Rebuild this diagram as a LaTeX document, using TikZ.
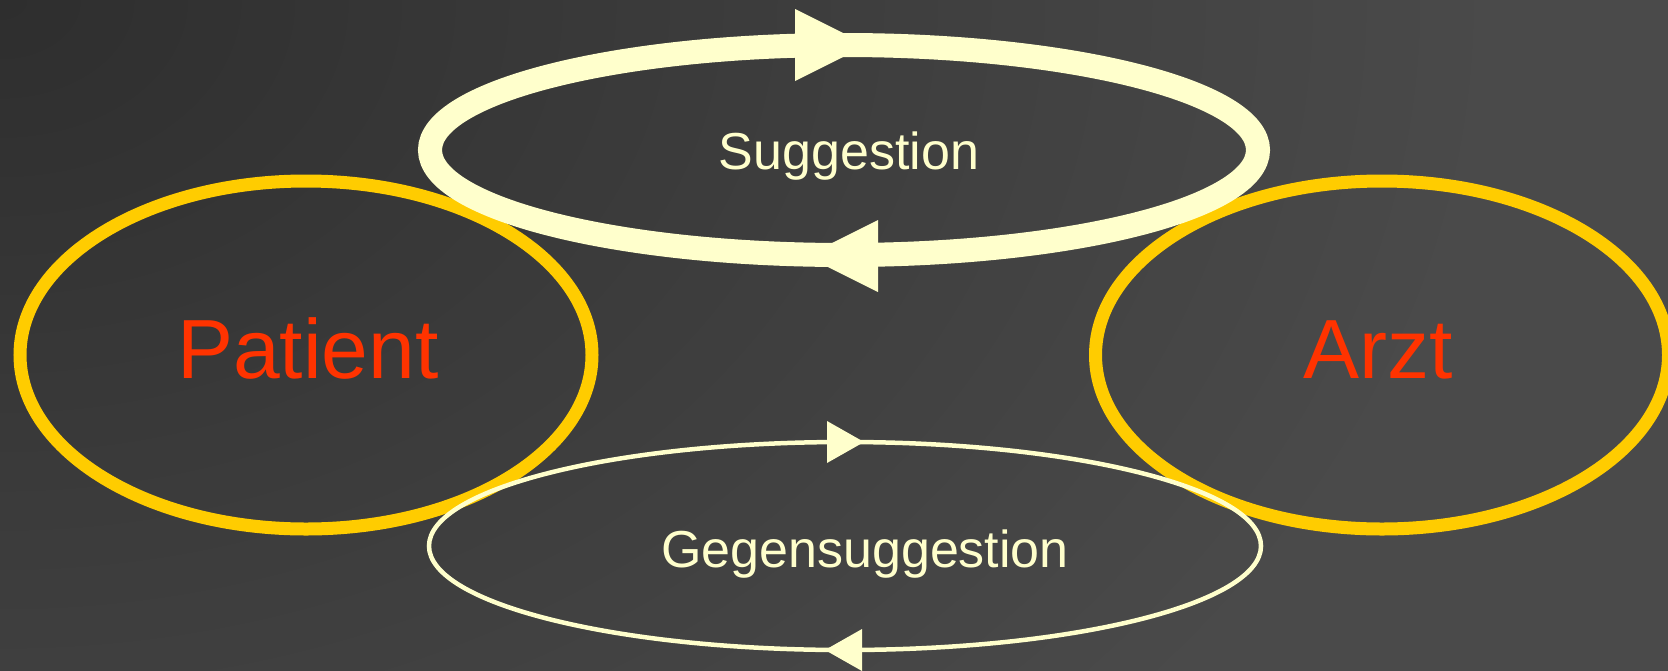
\documentclass[tikz,border=0pt]{standalone}
\usepackage{fontspec}
\setmainfont{Liberation Sans}
\usetikzlibrary{shapes.geometric}
\definecolor{bgdark}{HTML}{2E2E2E}
\definecolor{bglight}{HTML}{4A4A4A}
\definecolor{gold}{HTML}{FFCC00}
\definecolor{cream}{HTML}{FFFFCC}
\definecolor{redtxt}{HTML}{FF3300}
\pgfdeclareradialshading{bgshade}{\pgfpoint{0bp}{0bp}}{color(0bp)=(bgdark); color(12.5bp)=(bglight); color(50bp)=(bglight)}
\begin{document}
\begin{tikzpicture}[x=1pt,y=-1pt,
 party/.style={ellipse,draw=gold,line width=13pt,inner sep=0pt},
 loopring/.style={ellipse,draw=cream,inner sep=0pt},
 bigtxt/.style={text=redtxt,font=\fontsize{84}{90}\selectfont,anchor=base,inner sep=0pt},
 smalltxt/.style={text=cream,font=\fontsize{52}{60}\selectfont,anchor=base,inner sep=0pt},
 tip/.style={fill=cream}]
\useasboundingbox (0,0) rectangle (1668,670);
\fill[bglight] (0,0) rectangle (1668,670);
\begin{scope}
\clip (0,0) rectangle (1668,670);
\shade[shading=bgshade] (0,0) ellipse (3000 and 2200);
\end{scope}
\node[party, minimum width=572pt, minimum height=348pt] (patient) at (306,355) {};
\node[party, minimum width=573pt, minimum height=348pt] (arzt) at (1382,355) {};
\node[loopring, line width=24pt, minimum width=828pt, minimum height=210pt] (sugg) at (844,150) {};
\node[loopring, line width=4.5pt, minimum width=832pt, minimum height=208pt] (gegen) at (845,546) {};
\fill[tip] (867,45) -- (795,9) -- (795,81) -- cycle;
\fill[tip] (806,256) -- (878,220) -- (878,292) -- cycle;
\fill[tip] (864,442) -- (827,421) -- (827,463) -- cycle;
\fill[tip] (825,650) -- (862,629) -- (862,671) -- cycle;
\node[bigtxt] (tpatient) at (308,378) {Patient};
\node[bigtxt] (tarzt) at (1378,378) {Arzt};
\node[smalltxt] (tsugg) at (849,169) {Suggestion};
\node[smalltxt] (tgegen) at (865,567) {Gegensuggestion};
\end{tikzpicture}
\end{document}
